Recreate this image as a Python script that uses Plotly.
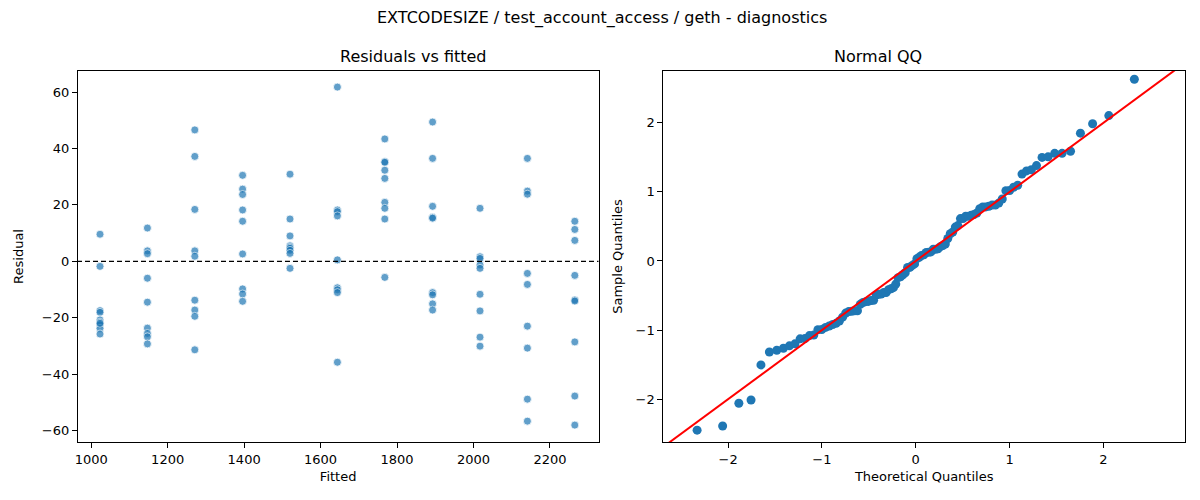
import statistics
import plotly.graph_objects as go

# fitted value levels (x) and the residuals read at each level
fitted_levels = [1023, 1147, 1271, 1396, 1520, 1644, 1768, 1893, 2017, 2141, 2265]
residuals_by_level = [
    [9.6, -1.8, -17.5, -18.1, -20.8, -21.6, -22.5, -23.8, -25.8, -22.0],
    [11.8, 3.7, 2.7, -6.0, -14.5, -23.7, -25.6, -26.8, -29.3],
    [46.6, 37.2, 18.4, 3.7, 1.8, -13.8, -17.3, -19.5, -31.4],
    [30.5, 25.6, 23.7, 18.2, 14.2, 2.6, -9.8, -11.6, -14.2],
    [30.9, 15.0, 9.0, 5.5, 5.0, 4.6, 3.9, 2.8, -2.5],
    [61.8, 18.2, 17.6, 16.1, 0.5, -9.4, -10.1, -11.1, -35.8],
    [43.4, 35.3, 35.1, 32.3, 29.4, 20.9, 18.8, 15.0, -5.7],
    [49.4, 36.5, 19.5, 15.6, 15.3, -11.1, -11.9, -15.1, -17.3],
    [18.8, 1.6, 1.0, -1.3, -2.5, -11.7, -17.6, -26.9, -30.1],
    [36.5, 24.9, 23.8, -4.3, -8.2, -23.0, -30.8, -48.9, -56.7],
    [14.2, 11.3, 7.4, -5.0, -13.7, -14.1, -28.6, -47.8, -58.1],
]

fitted = []
resid = []
for lvl, rs in zip(fitted_levels, residuals_by_level):
    for r in rs:
        fitted.append(lvl)
        resid.append(r)

# normal QQ of the standardised residuals (statsmodels style, fit=True)
n = len(resid)
mu = sum(resid) / n
sd = statistics.pstdev(resid)
sample_q = sorted((r - mu) / sd for r in resid)
nd = statistics.NormalDist()
theo_q = [nd.inv_cdf((i + 1) / (n + 1)) for i in range(n)]

font = "DejaVu Sans"
blue = "#1f77b4"

# the page body has an 8px margin, so the figure is 1184x484
W, H = 1184, 484
def px_x(v):
    return (v - 8) / W
def px_y(v):
    return 1 - (v - 8) / H

fig = go.Figure()

fig.add_trace(go.Scatter(
    x=fitted, y=resid, mode="markers",
    marker=dict(color=blue, size=8, opacity=0.7, line=dict(color="white", width=0.8)),
    xaxis="x", yaxis="y", showlegend=False,
))
fig.add_trace(go.Scatter(
    x=[900, 2400], y=[0, 0], mode="lines",
    line=dict(color="black", width=1.2, dash="5px,3px"),
    xaxis="x", yaxis="y", showlegend=False,
))

fig.add_trace(go.Scatter(
    x=theo_q, y=sample_q, mode="markers",
    marker=dict(color=blue, size=9),
    xaxis="x2", yaxis="y2", showlegend=False,
))
fig.add_trace(go.Scatter(
    x=[-3.5, 3.5], y=[-3.5, 3.5], mode="lines",
    line=dict(color="red", width=2),
    xaxis="x2", yaxis="y2", showlegend=False,
))

axis_style = dict(
    showline=True, linecolor="black", linewidth=1, mirror=True,
    ticks="outside", ticklen=5, tickcolor="black", tickwidth=1,
    showgrid=False, zeroline=False,
    tickfont=dict(family=font, size=13, color="black"),
)

ydom = [px_y(442), px_y(71)]
fig.update_layout(
    width=W, height=H,
    margin=dict(l=0, r=0, t=0, b=0),
    plot_bgcolor="white", paper_bgcolor="white",
    font=dict(family=font, color="black"),
    xaxis=dict(domain=[px_x(75), px_x(597)], range=[965, 2327],
               tickvals=[1000, 1200, 1400, 1600, 1800, 2000, 2200],
               title=dict(text="Fitted", font=dict(size=13), standoff=6), **axis_style),
    yaxis=dict(domain=ydom, range=[-64.1, 67.5],
               tickvals=[-60, -40, -20, 0, 20, 40, 60],
               title=dict(text="Residual", font=dict(size=13), standoff=15), **axis_style),
    xaxis2=dict(domain=[px_x(662), px_x(1185)], range=[-2.69, 2.87], anchor="y2",
                tickvals=[-2, -1, 0, 1, 2],
                title=dict(text="Theoretical Quantiles", font=dict(size=13), standoff=6), **axis_style),
    yaxis2=dict(domain=ydom, range=[-2.62, 2.75], anchor="x2",
                tickvals=[-2, -1, 0, 1, 2],
                title=dict(text="Sample Quantiles", font=dict(size=13), standoff=10), **axis_style),
    annotations=[
        dict(text="EXTCODESIZE / test_account_access / geth - diagnostics",
             x=px_x(600), y=px_y(18), xref="paper", yref="paper",
             showarrow=False, font=dict(size=16), yanchor="middle"),
        dict(text="Residuals vs fitted", x=px_x(336), y=px_y(56),
             xref="paper", yref="paper", showarrow=False, font=dict(size=16), yanchor="middle"),
        dict(text="Normal QQ", x=px_x(923.5), y=px_y(56),
             xref="paper", yref="paper", showarrow=False, font=dict(size=16), yanchor="middle"),
    ],
)

fig.write_html("out.html")
